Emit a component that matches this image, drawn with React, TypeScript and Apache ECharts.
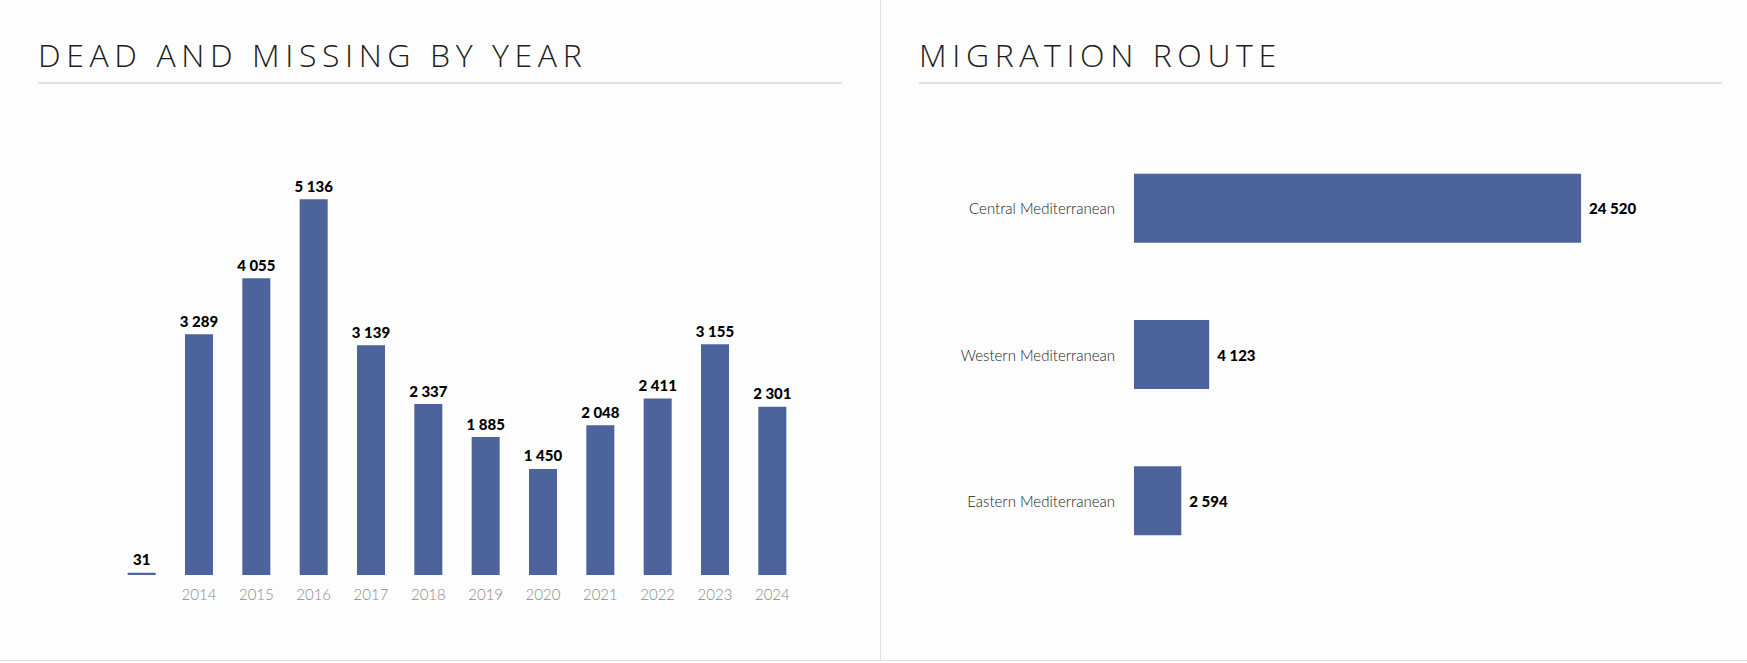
import React, { useEffect, useRef } from "react";
import * as echarts from "echarts";

const yearCategories = ["", "2014", "2015", "2016", "2017", "2018", "2019", "2020", "2021", "2022", "2023", "2024"];
const yearValues = [31, 3289, 4055, 5136, 3139, 2337, 1885, 1450, 2048, 2411, 3155, 2301];
const routeCategories = ["Central Mediterranean", "Western Mediterranean", "Eastern Mediterranean"];
const routeValues = [24520, 4123, 2594];
const leftTitle = "DEAD AND MISSING BY YEAR";
const rightTitle = "MIGRATION ROUTE";

const BAR = "#4c649b";
const fmt = (v: number) => String(v).replace(/\B(?=(\d{3})+(?!\d))/g, " ");

export default function App() {
  const ref = useRef<HTMLDivElement>(null);
  useEffect(() => {
    document.body.style.margin = "0";
    const chart = echarts.init(ref.current!, undefined, { renderer: "svg" });
    const titleStyle = {
      fill: "#1c1c1c",
      font: "300 32px 'Open Sans'",
      verticalAlign: "top",
      align: "left",
    };
    chart.setOption({
      animation: false,
      backgroundColor: "#fdfdfd",
      graphic: [
        { type: "text", left: 38, top: 38, style: { ...titleStyle, text: leftTitle } },
        { type: "text", left: 919, top: 38, style: { ...titleStyle, text: rightTitle } },
        { type: "line", shape: { x1: 38, y1: 83, x2: 842, y2: 83 }, style: { stroke: "#dde1e7", lineWidth: 2 } },
        { type: "line", shape: { x1: 919, y1: 83, x2: 1722, y2: 83 }, style: { stroke: "#dde1e7", lineWidth: 2 } },
        { type: "line", shape: { x1: 880.5, y1: 0, x2: 880.5, y2: 660 }, style: { stroke: "#dfe1e5", lineWidth: 1 } },
        { type: "line", shape: { x1: 0, y1: 660.5, x2: 1747, y2: 660.5 }, style: { stroke: "#dfe1e5", lineWidth: 1 } },
      ],
      grid: [
        { left: 113, top: 136, width: 688, height: 439 },
        { left: 1134, top: 135, width: 547, height: 439 },
      ],
      xAxis: [
        {
          gridIndex: 0,
          type: "category",
          data: yearCategories,
          axisLine: { show: false },
          axisTick: { show: false },
          axisLabel: { color: "#8a8a8a", fontFamily: "Lato", fontWeight: 300, fontSize: 15, margin: 11 },
        },
        { gridIndex: 1, type: "value", min: 0, max: 30000, show: false, splitLine: { show: false } },
      ],
      yAxis: [
        { gridIndex: 0, type: "value", min: 0, max: 6000, show: false, splitLine: { show: false } },
        {
          gridIndex: 1,
          type: "category",
          inverse: true,
          data: routeCategories,
          axisLine: { show: false },
          axisTick: { show: false },
          axisLabel: { color: "#222", fontFamily: "Lato", fontWeight: 300, fontSize: 15, margin: 19 },
        },
      ],
      series: [
        {
          type: "bar",
          xAxisIndex: 0,
          yAxisIndex: 0,
          data: yearValues,
          barWidth: 28,
          itemStyle: { color: BAR },
          label: {
            show: true,
            position: "top",
            distance: 6,
            color: "#000",
            fontFamily: "Lato",
            fontWeight: 900,
            fontSize: 15,
            formatter: (p: any) => fmt(p.value),
          },
        },
        {
          type: "bar",
          xAxisIndex: 1,
          yAxisIndex: 1,
          data: routeValues,
          barWidth: 69,
          itemStyle: { color: BAR },
          label: {
            show: true,
            position: "right",
            distance: 8,
            color: "#000",
            fontFamily: "Lato",
            fontWeight: 900,
            fontSize: 15,
            formatter: (p: any) => fmt(p.value),
          },
        },
      ],
    });
    const patch = () => {
      ref.current?.querySelectorAll("text").forEach((t) => {
        const s = t.textContent || "";
        if (s === leftTitle || s === rightTitle) {
          (t as SVGTextElement).style.letterSpacing = "5.6px";
        }
      });
    };
    patch();
    const raf = requestAnimationFrame(patch);
    const to = setTimeout(patch, 50);
    return () => {
      cancelAnimationFrame(raf);
      clearTimeout(to);
      chart.dispose();
    };
  }, []);
  return <div ref={ref} style={{ width: 1747, height: 663 }} />;
}
